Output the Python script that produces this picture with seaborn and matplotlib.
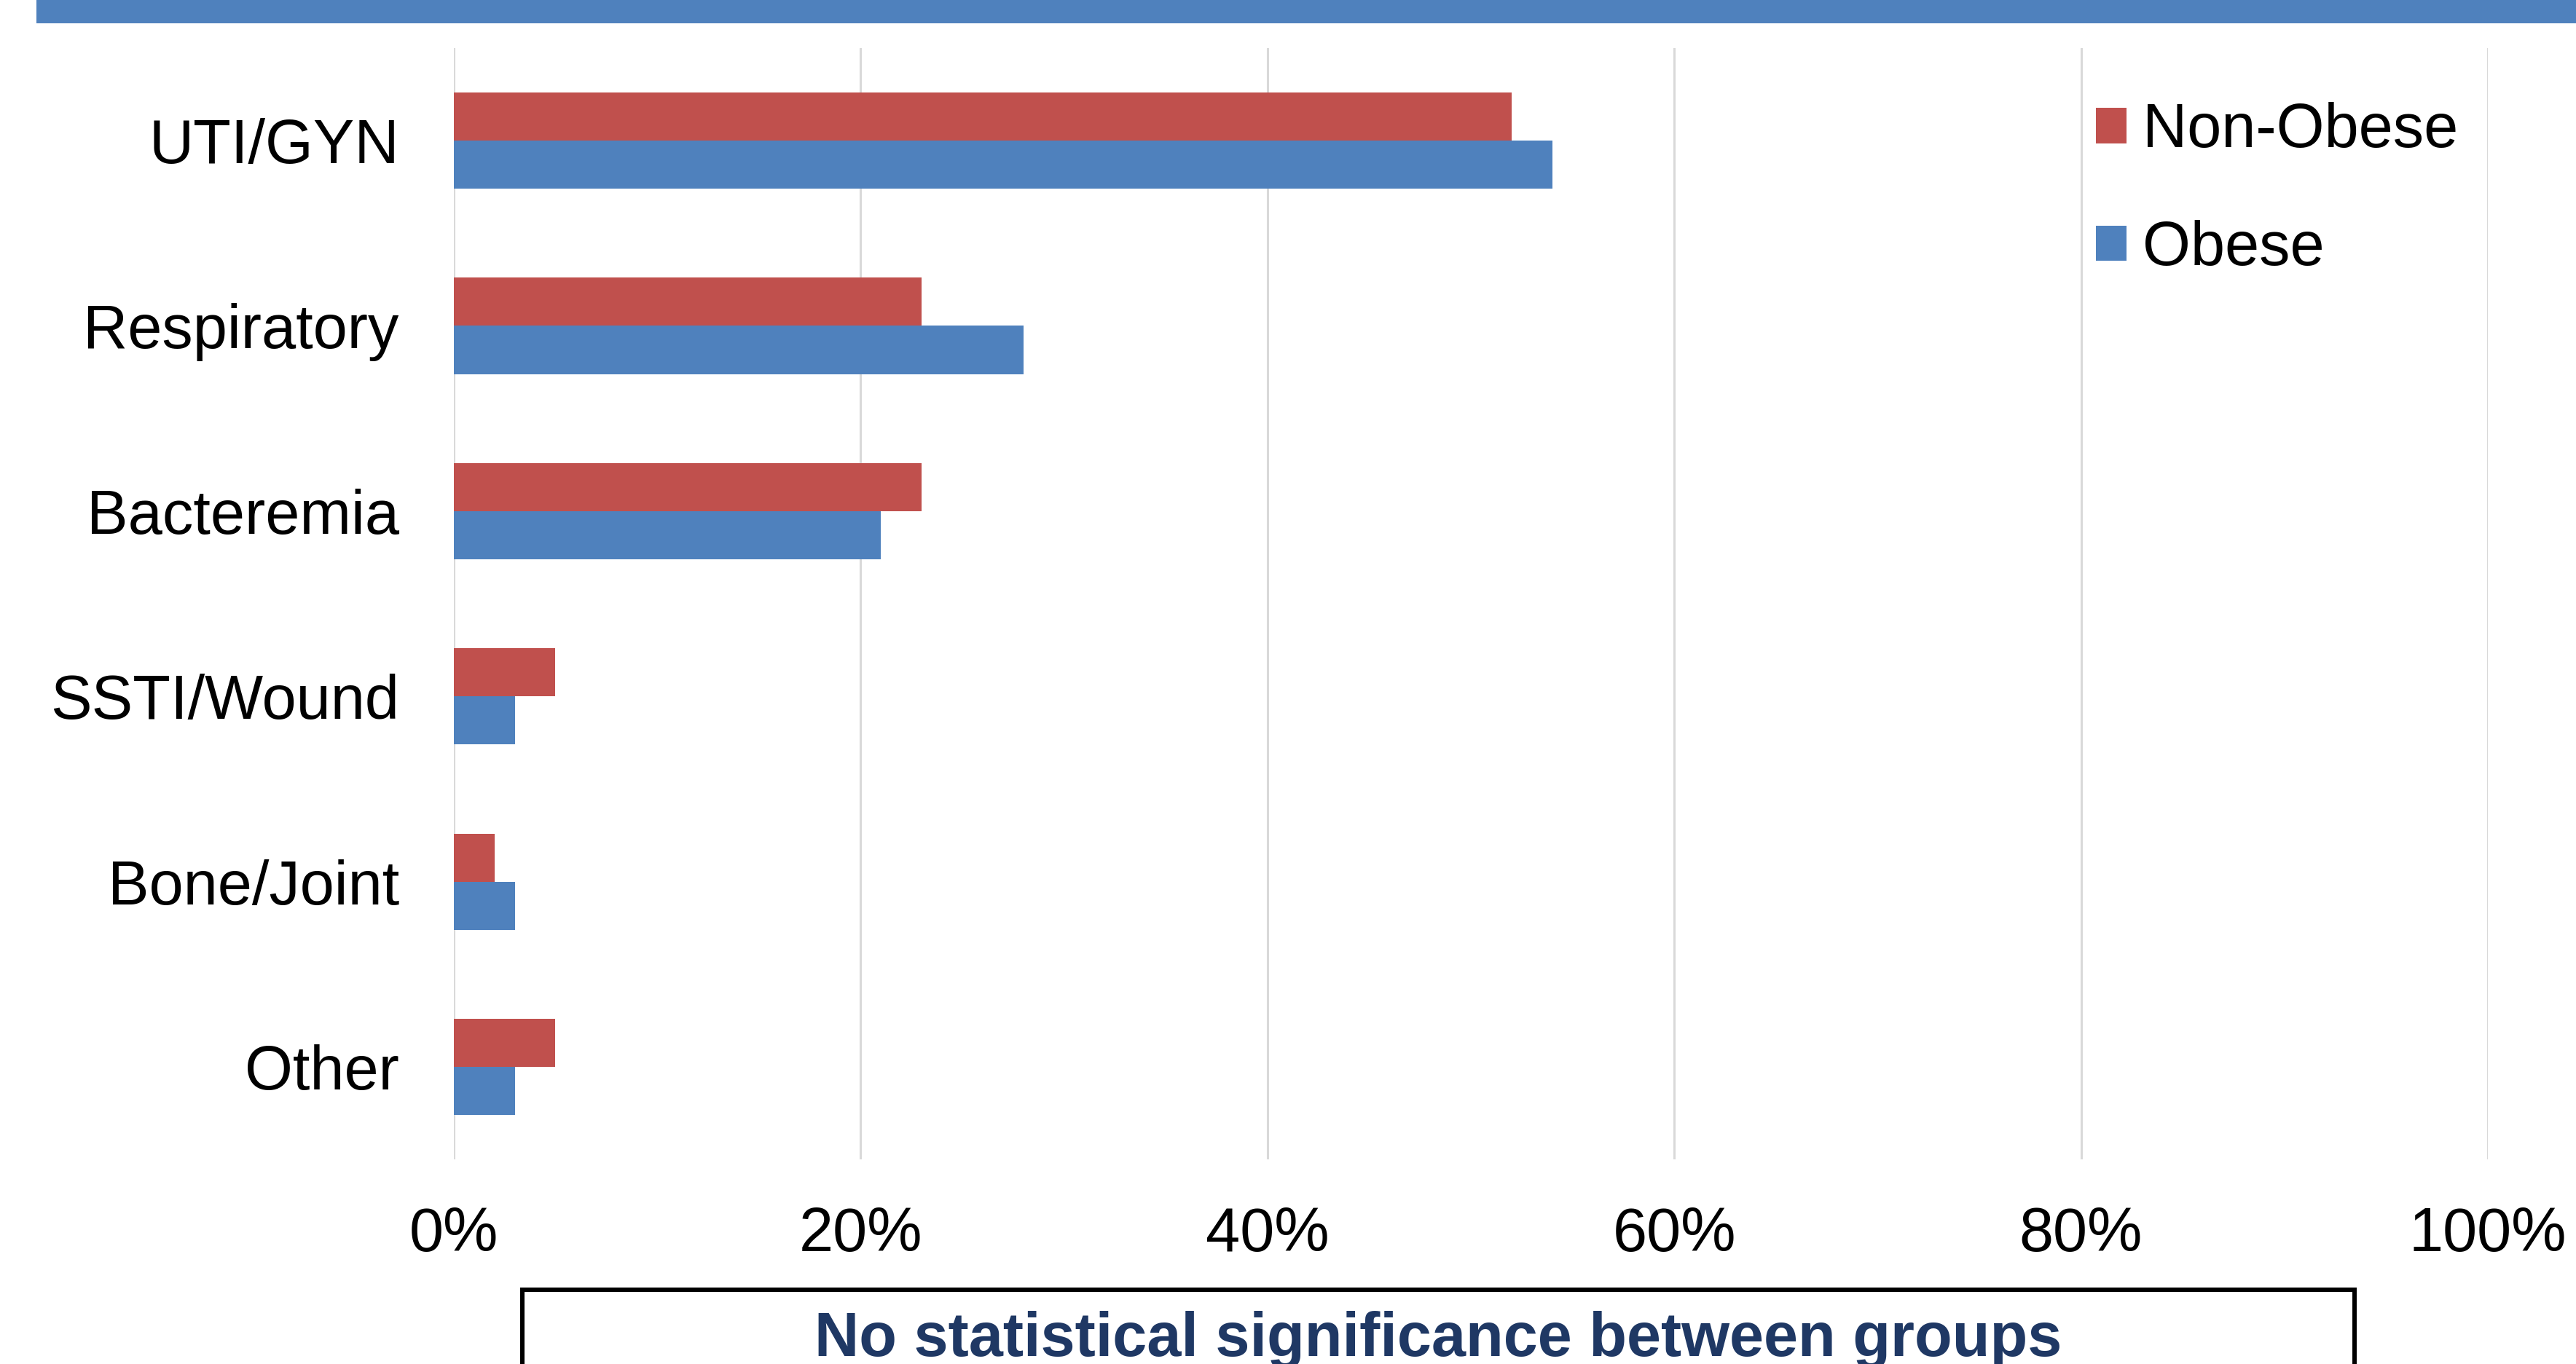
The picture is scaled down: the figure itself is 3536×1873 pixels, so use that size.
import matplotlib
matplotlib.use('Agg')
import matplotlib.pyplot as plt
from matplotlib.patches import Rectangle
import seaborn as sns
import pandas as pd

# Data (percent of patients)
categories = ['UTI/GYN', 'Respiratory', 'Bacteremia', 'SSTI/Wound', 'Bone/Joint', 'Other']
non_obese = [52, 23, 23, 5, 2, 5]
obese = [54, 28, 21, 3, 3, 3]
groups = ['Non-Obese', 'Obese']
x_ticks = [0, 20, 40, 60, 80, 100]
note = 'No statistical significance between groups'

df = pd.DataFrame({
    'Infection': categories * 2,
    'Percent': non_obese + obese,
    'Group': [groups[0]] * len(categories) + [groups[1]] * len(categories),
})

sns.set_style('white')
plt.rcParams['font.family'] = ['Liberation Sans', 'DejaVu Sans']
plt.rcParams['text.color'] = 'black'
plt.rcParams['xtick.color'] = 'black'
plt.rcParams['ytick.color'] = 'black'

red = '#C0504D'
blue = '#4F81BD'
fs = 61

fig = plt.figure(figsize=(35.37, 18.73), dpi=100)
ax = fig.add_axes([0.1761, 0.1498, 0.7894, 0.8151])

sns.barplot(data=df, y='Infection', x='Percent', hue='Group', orient='h',
            palette={groups[0]: red, groups[1]: blue}, hue_order=groups,
            width=0.52, saturation=1, errorbar=None, linewidth=0, ax=ax)

ax.set_xlim(0, 100)
ax.set_xticks(x_ticks)
ax.set_xticklabels([f'{t}%' for t in x_ticks])
ax.set_xlabel('')
ax.set_ylabel('')
ax.grid(axis='x', color='#D9D9D9', linewidth=2.2)
ax.set_axisbelow(True)
for s in ax.spines.values():
    s.set_visible(False)
ax.tick_params(axis='both', length=0, labelsize=fs, labelcolor='black')
ax.tick_params(axis='y', pad=54)
ax.tick_params(axis='x', pad=46)

handles, labels = ax.get_legend_handles_labels()
leg = ax.legend(handles, labels, loc='upper left', bbox_to_anchor=(0.8134, 0.925),
                bbox_transform=fig.transFigure, frameon=False, fontsize=fs,
                handlelength=0.5, handleheight=0.5, handletextpad=0.25,
                labelspacing=0.96, borderpad=0, borderaxespad=0)
for t in leg.get_texts():
    t.set_color('black')

# blue banner at the top
fig.add_artist(Rectangle((50 / 3537, 1 - 32 / 1873), 1, 32 / 1873,
                         transform=fig.transFigure, color=blue, lw=0))

# note box at the bottom (cut off by the figure edge)
fig.add_artist(Rectangle((0.2027, -0.05), 0.7111, 0.1045, transform=fig.transFigure,
                         fill=False, edgecolor='black', lw=4.3))
fig.text(0.5581, 0.006, note, ha='center', va='baseline', fontsize=fs,
         fontweight='bold', color='#1F3864')

fig.savefig('out.png', dpi=100)
